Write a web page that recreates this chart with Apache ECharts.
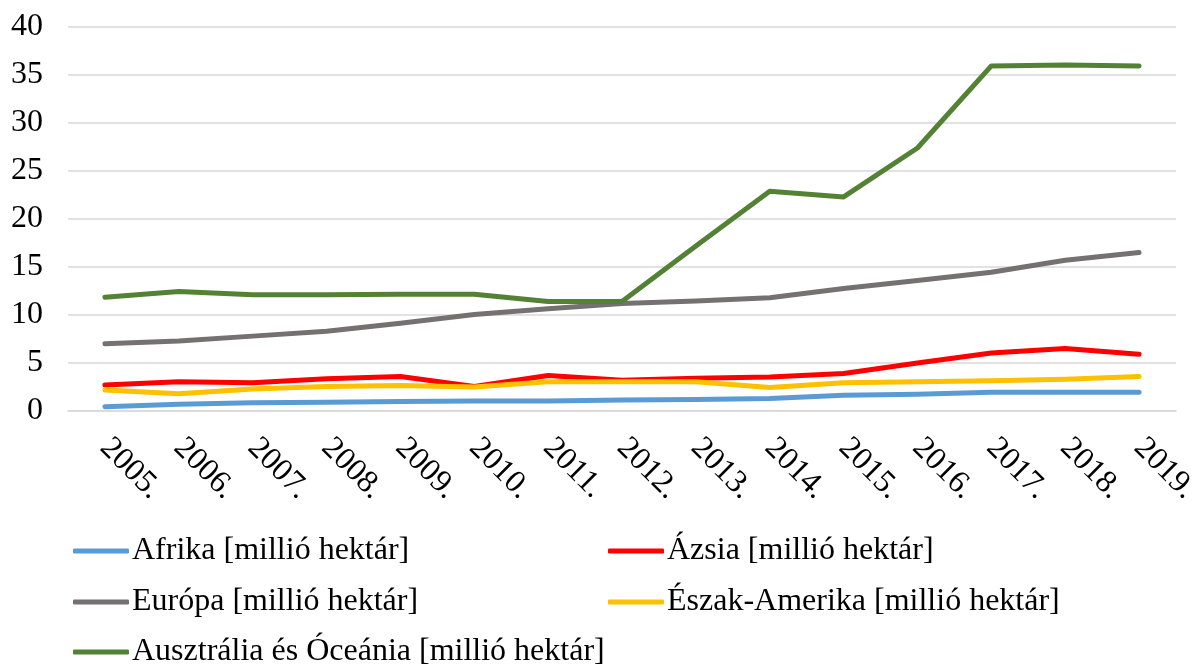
<!DOCTYPE html>
<html>
<head>
<meta charset="utf-8">
<script src="https://cdn.jsdelivr.net/npm/echarts@6/dist/echarts.min.js"></script>
<style>
  html, body { margin: 0; padding: 0; background: #fff; }
  #container { width: 1192px; height: 666px; }
</style>
</head>
<body>
<div id="container"></div>
<script>
var years = ['2005.', '2006.', '2007.', '2008.', '2009.', '2010.', '2011.', '2012.',
    '2013.', '2014.', '2015.', '2016.', '2017.', '2018.', '2019.'];

var afrika = [0.45, 0.7, 0.85, 0.9, 1.0, 1.05, 1.05, 1.15, 1.2, 1.3, 1.65, 1.75, 1.95, 1.95, 1.95];
var azsia = [2.7, 3.05, 2.95, 3.35, 3.6, 2.55, 3.7, 3.2, 3.4, 3.55, 3.9, 5.0, 6.05, 6.5, 5.9];
var europa = [7.0, 7.3, 7.8, 8.3, 9.15, 10.05, 10.65, 11.2, 11.45, 11.8, 12.75, 13.6, 14.45, 15.7, 16.5];
var eszakAmerika = [2.2, 1.8, 2.3, 2.55, 2.65, 2.5, 3.05, 3.05, 3.05, 2.45, 2.95, 3.05, 3.15, 3.3, 3.6];
var ausztralia = [11.85, 12.45, 12.1, 12.1, 12.15, 12.15, 11.4, 11.4, 17.2, 22.9, 22.3, 27.4, 35.95, 36.05, 35.95];

var seriesNames = [
    'Afrika [millió hektár]',
    'Ázsia [millió hektár]',
    'Európa [millió hektár]',
    'Észak-Amerika [millió hektár]',
    'Ausztrália és Óceánia [millió hektár]'
];
var seriesData = [afrika, azsia, europa, eszakAmerika, ausztralia];
var colors = ['#5b9bd5', '#ff0000', '#767171', '#ffc000', '#548235'];

var font = '"Liberation Serif", "Times New Roman", serif';

// one legend box per item so the two-column layout matches
var legendPos = [
    {left: 73, top: 535},
    {left: 608, top: 535},
    {left: 73, top: 586},
    {left: 608, top: 586},
    {left: 73, top: 636}
];
var legends = seriesNames.map(function (name, i) {
    return {
        data: [name],
        left: legendPos[i].left,
        top: legendPos[i].top,
        padding: 0,
        orient: 'horizontal',
        icon: 'roundRect',
        itemWidth: 56,
        itemHeight: 5,
        itemGap: 0,
        selectedMode: false,
        textStyle: {fontFamily: font, fontSize: 32, color: '#000', padding: [0, 0, 0, -2]}
    };
});

var myChart = echarts.init(document.getElementById('container'));
var option = {
    animation: false,
    color: colors,
    grid: {left: 68, right: 16, top: 27, bottom: 255, outerBoundsMode: 'none', containLabel: false},
    legend: legends,
    xAxis: {
        type: 'category',
        data: years,
        boundaryGap: true,
        axisLine: {show: true, lineStyle: {color: '#d9d9d9', width: 1.5}},
        axisTick: {show: false},
        axisLabel: {
            interval: 0,
            rotate: -45,
            margin: 32,
            fontFamily: font,
            fontSize: 32,
            color: '#000'
        }
    },
    yAxis: {
        type: 'value',
        min: 0,
        max: 40,
        interval: 5,
        axisLine: {show: false},
        axisTick: {show: false},
        splitLine: {lineStyle: {color: '#d9d9d9', width: 1.5}},
        axisLabel: {
            margin: 25,
            fontFamily: font,
            fontSize: 32,
            color: '#000'
        }
    },
    series: seriesNames.map(function (name, i) {
        return {
            name: name,
            type: 'line',
            data: seriesData[i],
            symbol: 'none',
            lineStyle: {width: 5, color: colors[i], cap: 'round', join: 'round'},
            itemStyle: {color: colors[i]}
        };
    })
};
myChart.setOption(option);
</script>
</body>
</html>
